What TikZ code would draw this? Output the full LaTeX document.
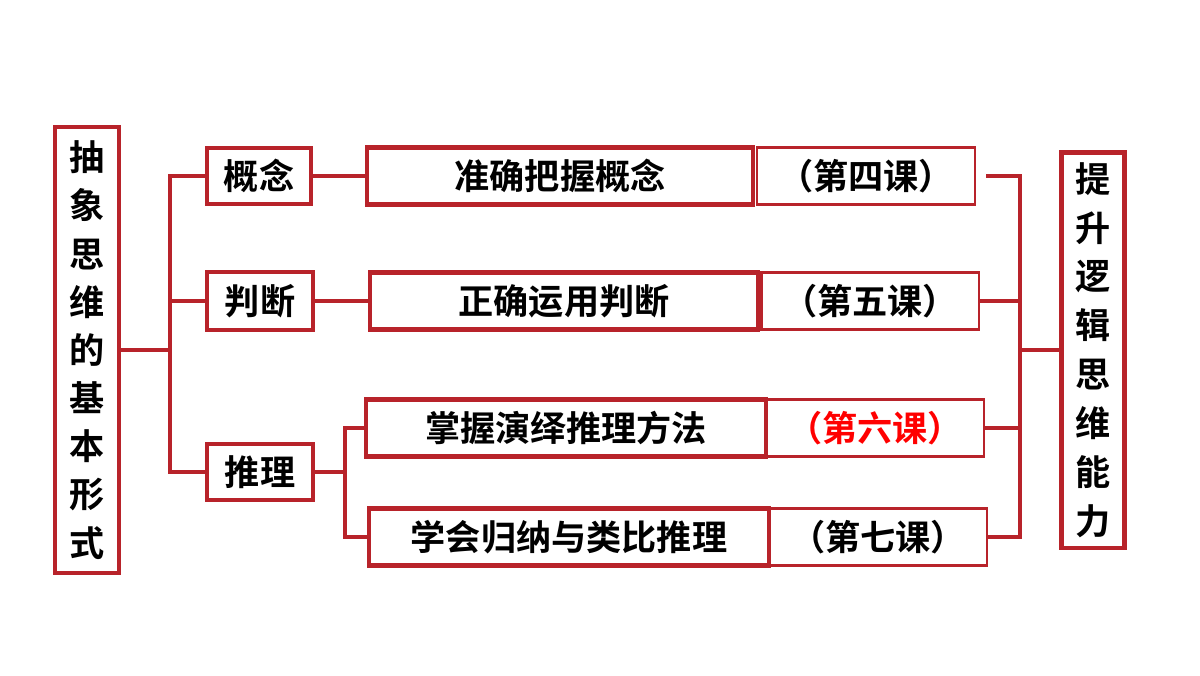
\documentclass[tikz,border=0pt]{standalone}
\usepackage{fontspec}
\setmainfont{Noto Sans CJK SC}[BoldFont={* Bold}]
\usetikzlibrary{positioning}
\definecolor{dred}{HTML}{B8232A}
\tikzset{
	%boxes
	kbox/.style = {draw=dred, line width=1.2pt, inner sep=0pt, font=\bfseries\fontsize{10}{11}\selectfont},
	kline/.style = {draw=dred, line width=1.2pt}
}
\begin{document}
\begin{tikzpicture}[x=0.01cm, y=-0.01cm]
	\useasboundingbox (0,0) rectangle (1200,675);
	%nodes
	\node[kbox, minimum width=0.64cm, minimum height=4.45cm, align=center,
	      font=\bfseries\fontsize{10}{13.7}\selectfont] (base) at (87,350)
	      {抽\\象\\思\\维\\的\\基\\本\\形\\式};
	\node[kbox, minimum width=0.63cm, minimum height=3.95cm, align=center,
	      font=\bfseries\fontsize{10}{13.9}\selectfont] (goal) at (1093,350)
	      {提\\升\\逻\\辑\\思\\维\\能\\力};
	\node[kbox, minimum width=1.04cm, minimum height=0.56cm] (gn) at (259,176) {概念};
	\node[kbox, minimum width=1.06cm, minimum height=0.58cm] (pd) at (260,301) {判断};
	\node[kbox, minimum width=1.06cm, minimum height=0.56cm] (tl) at (260,472) {推理};
	\node[kbox, minimum width=3.86cm, minimum height=0.57cm] (a1) at (560,176) {准确把握概念};
	\node[kbox, minimum width=3.88cm, minimum height=0.57cm] (a2) at (564,301) {正确运用判断};
	\node[kbox, minimum width=3.99cm, minimum height=0.57cm] (a3) at (566,428) {掌握演绎推理方法};
	\node[kbox, minimum width=3.99cm, minimum height=0.57cm] (a4) at (569,537) {学会归纳与类比推理};
	\node[kbox, line width=0.6pt, minimum width=2.18cm, minimum height=0.57cm] (k1) at (866,176) {（第四课）};
	\node[kbox, line width=0.6pt, minimum width=2.17cm, minimum height=0.57cm] (k2) at (870,301) {（第五课）};
	\node[kbox, line width=0.6pt, minimum width=2.18cm, minimum height=0.57cm, text=red] (k3) at (875,428) {（第六课）};
	\node[kbox, line width=0.6pt, minimum width=2.18cm, minimum height=0.57cm] (k4) at (878,537) {（第七课）};
	%connectors
	\coordinate (lj) at (170,350);
	\coordinate (tj) at (345,472);
	\coordinate (rj) at (1020,350);
	\draw[kline] (base.east |- lj) -- (lj);
	\draw[kline] (gn.west) -| (lj) |- (tl.west);
	\draw[kline] (lj |- pd.west) -- (pd.west);
	\draw[kline] (gn) -- (a1);
	\draw[kline] (pd) -- (a2);
	\draw[kline] (tl) -- (tj);
	\draw[kline] (a3.west) -| (tj) |- (a4.west);
	\draw[kline] (k1.east) ++(10,0) -| (rj) |- (k4.east);
	\draw[kline] (k2.east) -- (rj |- k2.east);
	\draw[kline] (k3.east) -- (rj |- k3.east);
	\draw[kline] (rj) -- (goal.west |- rj);
\end{tikzpicture}
\end{document}
